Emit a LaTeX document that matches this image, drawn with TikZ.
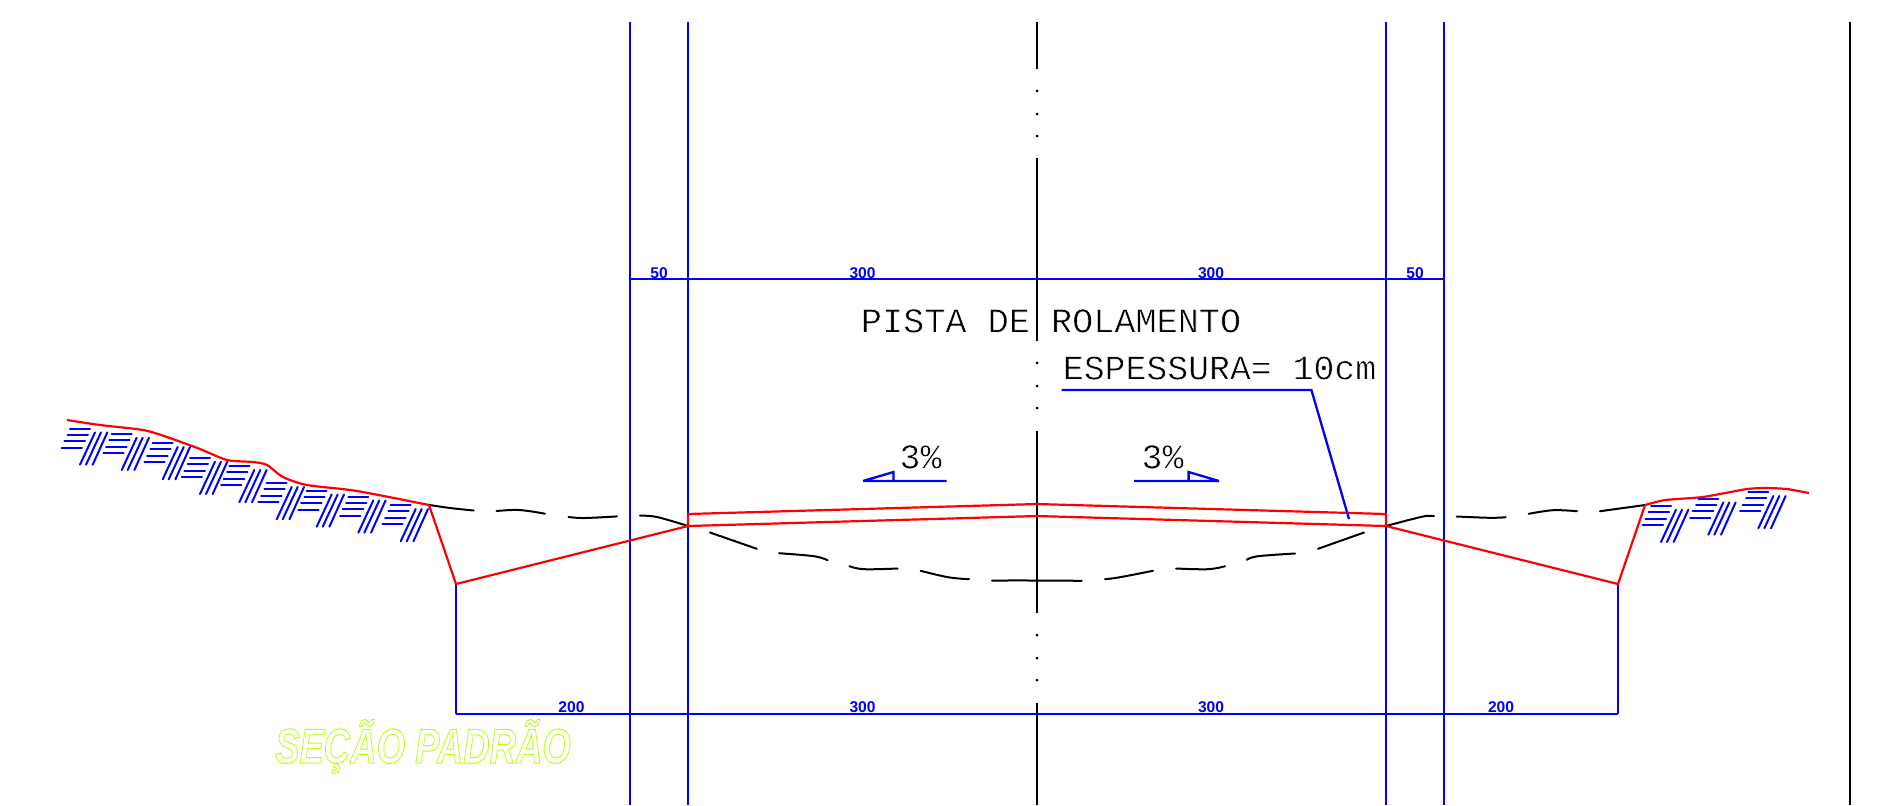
\documentclass[tikz,border=0pt]{standalone}
\usepackage{fontspec}
\setmainfont{Liberation Sans}
\newfontfamily\cadfont{Liberation Mono}
\definecolor{cadblue}{RGB}{0,0,255}
\definecolor{cadred}{RGB}{255,0,0}
\definecolor{cadlime}{RGB}{184,255,13}
\tikzset{
  blueln/.style={draw=cadblue,line width=1.15pt},
  redln/.style={draw=cadred,line width=1.1pt,line join=round},
  blackln/.style={draw=black,line width=1.15pt},
  hatchln/.style={draw=cadblue,line width=1pt,line cap=round},
  groundln/.style={draw=black,line width=1pt,line cap=round},
  dim/.style={text=cadblue,font=\fontsize{7.8}{9}\selectfont\bfseries,inner sep=0pt,anchor=base},
  cadtext/.style={text=black,font=\fontsize{17.6}{20}\cadfont,inner sep=0pt,anchor=base west},
}
\newcommand{\thinned}[1]{\special{pdf:code 2 Tr 0.3 w 1 1 1 RG}#1\special{pdf:code 0 Tr 0 0 0 RG}}
\newcommand{\hatchgroup}[2]{%
  \begin{scope}[shift={(#1,#2)}]
    \draw[hatchln] (0,0)--(20,0) (-2.3,6)--(18,6) (-5.7,12.7)--(15,12.7) (-8.3,19)--(12,19);
    \draw[hatchln] (10,36)--(25,3.7) (16,36)--(31,3.7) (22.7,36)--(37.3,3.7);
  \end{scope}}
\newcommand{\groundcurve}[1]{\draw[groundln] plot[smooth,tension=.6] coordinates {#1};}
\begin{document}
\begin{tikzpicture}[x=.5pt,y=-.5pt]
\useasboundingbox[fill=white] (0,0) rectangle (1882,805);
% named reference points
\coordinate (ditchL) at (456,584);
\coordinate (ditchR) at (1618,584);
\coordinate (toeL) at (429,505);
\coordinate (toeR) at (1645,505);
\coordinate (edgeL) at (688,526);
\coordinate (edgeR) at (1386,526);
\coordinate (dimBL) at (456,714);
\coordinate (dimBR) at (1618,714);
% verticals
\draw[blueln] (630,22)--(630,805);
\draw[blueln] (688,22)--(688,805);
\draw[blueln] (1386,22)--(1386,805);
\draw[blueln] (1444,22)--(1444,805);
\draw[blackln] (1850,22)--(1850,805);
% centre line
\draw[blackln] (1037,22)--(1037,69);
\draw[blackln] (1037,158)--(1037,341);
\draw[blackln] (1037,431)--(1037,613);
\draw[blackln] (1037,703)--(1037,805);
\foreach \yy in {91,114,136,363,386,408,635,658,680}
  \fill (1037,\yy) circle (1.5);
% dimension lines
\draw[blueln] (630,279)--(1444,279);
\draw[blueln] (dimBL)--(dimBR);
\draw[blueln] (ditchL)--(dimBL);
\draw[blueln] (ditchR)--(dimBR);
% ground dashes
\groundcurve{(429.6,505)(450,508)(473.6,510.5)}
\groundcurve{(496.5,511)(519.5,510)(545,513.7)}
\groundcurve{(568.5,517)(584.6,518)(617,516.4)}
\groundcurve{(640,515.7)(657,517)(688,526)}
\groundcurve{(710,532.5)(756.8,548.8)}
\groundcurve{(779,553.2)(814,556.2)(827.6,560.2)}
\groundcurve{(849.4,566.2)(864,569.2)(897.6,568.5)}
\groundcurve{(920.6,570.8)(948,577.2)(969,579.2)}
\groundcurve{(992,580.5)(1037,580.5)(1081.7,580.8)}
\groundcurve{(1105,579.2)(1120,577.2)(1153,570.8)}
\groundcurve{(1176,568.5)(1208,569.2)(1225,566.2)}
\groundcurve{(1246.7,559.8)(1258,556.2)(1295,553.5)}
\groundcurve{(1318,548.8)(1364,532.5)}
\groundcurve{(1386,526)(1423,516.5)(1434,516.2)}
\groundcurve{(1456.7,516.5)(1490,517.8)(1505.7,517.2)}
\groundcurve{(1528.7,513.8)(1553,510.2)(1577,511.2)}
\groundcurve{(1600,511.2)(1645,505)}
% pavement
\draw[redln] (688,514)--(1037,504)--(1386,514)--(edgeR)--(1037,516)--(edgeL)--cycle;
\draw[redln] (edgeL)--(ditchL)--(toeL);
\draw[redln] (edgeR)--(ditchR)--(toeR);
% terrain
\draw[redln] plot[smooth,tension=.45] coordinates {(67,420)(100,425)(143,430)(167,437)(200,449)(227,460)(253,462)(267,465)(283,477)(307,485)(357,491)(toeL)};
\draw[redln] plot[smooth,tension=.3] coordinates {(toeR)(1665,500)(1703,497)(1747,489)(1767,488)(1787,489)(1809,493)};
% hatches
\foreach \ox/\oy in {70/428.7,111.7/434,152.7/443.3,190/458,229.3/466.3,266.7/483.3,306.7/490.7,348.3/496.7,390.7/505.3,1651/506,1698.3/498.7,1748.3/492.3}
  \hatchgroup{\ox}{\oy}
% leader
\coordinate (leadA) at (1061.5,390);
\coordinate (leadB) at (1311.4,390);
\coordinate (leadC) at (1349,519);
\draw[blueln] (leadA)--(leadB)--(leadC);
% slope marks
\coordinate (sla) at (863,481);
\coordinate (slb) at (893.5,472);
\coordinate (slc) at (893.5,481);
\coordinate (sld) at (946.7,481);
\coordinate (sra) at (1134,481);
\coordinate (srb) at (1188.6,481);
\coordinate (src) at (1188.6,472);
\coordinate (srd) at (1219,481);
\draw[blueln] (sla)--(sld) (sla)--(slb)--(slc);
\draw[blueln] (sra)--(srd) (srb)--(src)--(srd);
% text
\node[cadtext] (t1) at (860.5,332.5) {\thinned{PISTA DE ROLAMENTO}};
\node[cadtext,font=\fontsize{17.4}{20}\cadfont] (t2) at (1062.5,379.5) {\thinned{ESPESSURA= 10cm}};
\node[cadtext] (t3) at (899,468.5) {\thinned{3\%}};
\node[cadtext] (t4) at (1141,468.5) {\thinned{3\%}};
\node[dim] (d1) at (659,278) {50};
\node[dim] (d2) at (862.5,278) {300};
\node[dim] (d3) at (1211,278) {300};
\node[dim] (d4) at (1415,278) {50};
\node[dim] (d5) at (571.5,712.5) {200};
\node[dim] (d6) at (862.5,712.5) {300};
\node[dim] (d7) at (1211,712.5) {300};
\node[dim] (d8) at (1501,712.5) {200};
\node[inner sep=0pt,anchor=base west,xscale=.745,transform shape,text=cadlime] (title) at (275,763)
  {\fontsize{24.5}{28}\selectfont\bfseries\itshape\special{pdf:code 1 Tr 0.5 w 0.72 1 0.05 RG}SEÇÃO PADRÃO\special{pdf:code 0 Tr 0 0 0 RG}};
\end{tikzpicture}
\end{document}
